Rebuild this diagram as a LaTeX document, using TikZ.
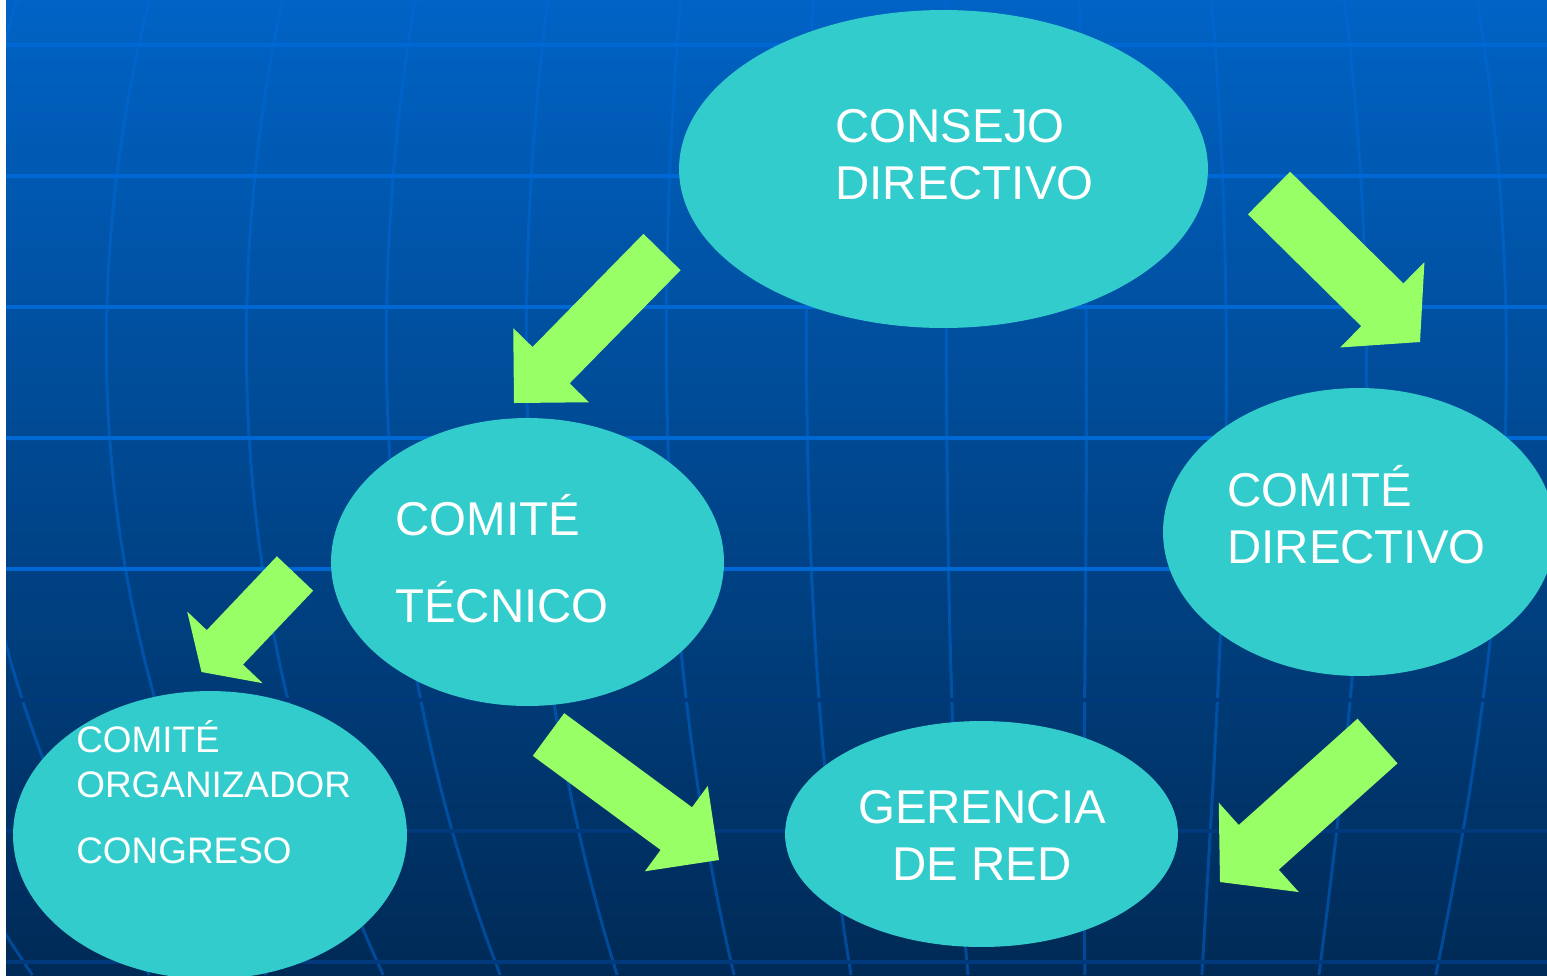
\documentclass[tikz,border=0pt]{standalone}
\usepackage{fontspec}
\setmainfont{Liberation Sans}
\usetikzlibrary{shapes.geometric, calc}

\definecolor{fondoarriba}{RGB}{0,99,197}
\definecolor{fondoabajo}{RGB}{0,42,86}
\definecolor{lineaclara}{RGB}{0,104,212}
\definecolor{lineaoscura}{RGB}{0,58,124}
\definecolor{meridiano}{RGB}{0,105,215}
\definecolor{turquesa}{RGB}{51,204,204}
\definecolor{verdeflecha}{RGB}{153,255,102}

\tikzset{
	elipse/.style={ellipse, fill=turquesa, inner sep=0pt},
	texto/.style={text=white, inner sep=0pt, align=left, font=\fontsize{27}{32.3}\selectfont},
	textochico/.style={texto, font=\fontsize{21}{25.5}\selectfont},
	flecha/.style={fill=verdeflecha},
}

% flecha de bloque: cola, punta, medio ancho, medio ala, largo de la punta
\newcommand{\flecha}[5]{%
	\coordinate (fb) at ($(#2)!#5!(#1)$);
	\fill[flecha] ($(#1)!#3!90:(#2)$) -- ($(fb)!#3!90:(#2)$) -- ($(fb)!#4!90:(#2)$) -- (#2)
		-- ($(fb)!#4!-90:(#2)$) -- ($(fb)!#3!-90:(#2)$) -- ($(#1)!#3!-90:(#2)$) -- cycle;
}

\begin{document}
\begin{tikzpicture}[x=0.02cm, y=-0.02cm]
	\useasboundingbox (0,0) rectangle (1547,975);
	\fill[white] (0,0) rectangle (6,975);
	\shade[top color=fondoarriba, bottom color=fondoabajo] (6,0) rectangle (1547,975);

	% globo de fondo
	\begin{scope}
		\clip (6,0) rectangle (1547,975);
		\foreach \k in {-8,...,8}
			\draw[meridiano, opacity=0.5, line width=0.06cm] plot[smooth, domain=0:975, samples=30, variable=\t]
				({946+22*(\t/975)^4+(\k)*(140-0.59*((\t-350)/100)^2)}, \t);
		\foreach \y in {45,176,307,438,569}
			\draw[lineaclara, line width=0.08cm] (6,\y)--(1547,\y);
		\foreach \y in {700,831,962}
			\draw[lineaoscura, line width=0.08cm] (6,\y)--(1547,\y);
	\end{scope}

	\node[elipse, minimum width=10.58cm, minimum height=6.36cm] (consejo) at (943.5,169) {};
	\node[elipse, minimum width=7.86cm, minimum height=5.76cm] (tecnico) at (527.5,562) {};
	\node[elipse, minimum width=7.84cm, minimum height=5.76cm] (comdir) at (1359,532) {};
	\node[elipse, minimum width=7.88cm, minimum height=5.76cm] (organiz) at (210,835) {};
	\node[elipse, minimum width=7.86cm, minimum height=4.52cm] (gerencia) at (981.5,834) {};

	\coordinate (c1) at (662,252); \coordinate (p1) at (514,403);
	\coordinate (c2) at (1269,193); \coordinate (p2) at (1420,342);
	\coordinate (c3) at (295,573.5); \coordinate (p3) at (201.5,672);
	\coordinate (c4) at (548.5,734.5); \coordinate (p4) at (719,860);
	\coordinate (c5) at (1377.5,741); \coordinate (p5) at (1220,882);
	\flecha{c1}{p1}{0.52cm}{1.06cm}{1.06cm}
	\flecha{c2}{p2}{0.6cm}{1.2cm}{1.06cm}
	\flecha{c3}{p3}{0.5cm}{1.04cm}{0.68cm}
	\flecha{c4}{p4}{0.53cm}{1.06cm}{1.06cm}
	\flecha{c5}{p5}{0.6cm}{1.2cm}{1.04cm}

	% el ancla base queda en la ultima linea
	\node[texto, anchor=base west] (tconsejo) at (835,199) {CONSEJO\\DIRECTIVO};
	\node[texto, anchor=base west] (ttecnico) at (395,622) {COMITÉ\\[17pt]TÉCNICO};
	\node[texto, anchor=base west] (tcomdir) at (1227,563) {COMITÉ\\DIRECTIVO};
	\node[texto, align=center, anchor=base] (tgerencia) at (982,880) {GERENCIA\\DE RED};
	\node[textochico, anchor=base west] (torganiz) at (76,863) {COMITÉ\\ORGANIZADOR\\[12pt]CONGRESO};
\end{tikzpicture}
\end{document}
